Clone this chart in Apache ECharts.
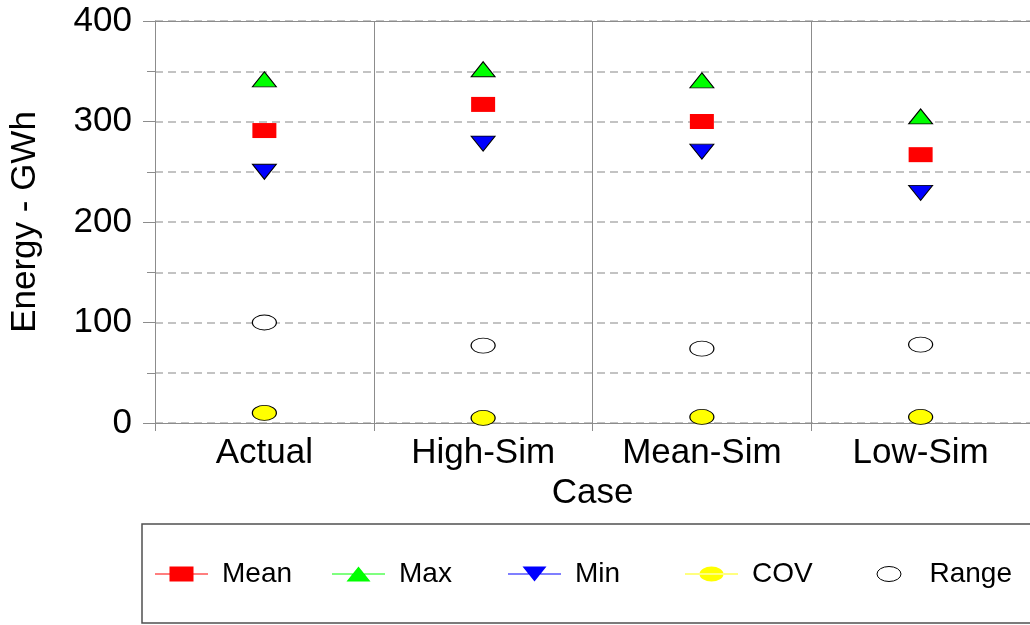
<!DOCTYPE html>
<html>
<head>
<meta charset="utf-8">
<script src="https://cdn.jsdelivr.net/npm/echarts@6/dist/echarts.min.js"></script>
<style>html,body{margin:0;padding:0;background:#fff}#c{width:1030px;height:625px}</style>
</head>
<body>
<div id="c"></div>
<script>
var categories = ['Actual', 'High-Sim', 'Mean-Sim', 'Low-Sim'];
var meanValues = [291, 317, 300, 267];
var maxValues = [342, 352, 341, 305];
var minValues = [250, 278, 270, 229];
var covValues = [10, 5, 6, 6];
var rangeValues = [100, 77, 74, 78];
var seriesNames = ['Mean', 'Max', 'Min', 'COV', 'Range'];

var FONT = 'Liberation Sans, Arial, sans-serif';
var ELLIPSE = 'path://M0,5a5,5 0 1,0 10,0a5,5 0 1,0 -10,0Z';
var LINE = 'M0,7h53v1h-53Z ';
var icons = {
  Mean: 'path://' + LINE + 'M14.5,0h24v15h-24Z',
  Max: 'path://' + LINE + 'M14.5,15L26.5,0L38.5,15Z',
  Min: 'path://' + LINE + 'M14.5,0L38.5,0L26.5,15Z',
  COV: 'path://' + LINE + 'M14.5,7.5a12,7.5 0 1,0 24,0a12,7.5 0 1,0 -24,0Z',
  Range: 'path://M14.5,7.5a12,7.5 0 1,0 24,0a12,7.5 0 1,0 -24,0Z'
};
var legendLefts = [155, 332, 508, 685, 876.5];

var chart = echarts.init(document.getElementById('c'), null, {renderer: 'canvas'});

var legends = seriesNames.map(function (n, i) {
  var isRange = n === 'Range';
  return {
    left: legendLefts[i],
    top: 560,
    padding: 0,
    itemWidth: 53,
    itemHeight: 15,
    selectedMode: false,
    data: [{
      name: n,
      icon: icons[n],
      itemStyle: isRange ? {color: '#ffffff', borderColor: '#000', borderWidth: 1} : {borderWidth: 0}
    }],
    textStyle: {fontFamily: FONT, fontSize: 28, color: '#000', padding: [0, 0, 0, 9]}
  };
});

var option = {
  backgroundColor: '#fff',
  animation: false,
  grid: {left: 155, top: 21, right: 0, bottom: 202, outerBoundsMode: 'none', containLabel: false},
  legend: legends,
  graphic: [{
    type: 'rect',
    shape: {x: 142, y: 524, width: 920, height: 99},
    style: {fill: 'none', stroke: '#505050', lineWidth: 1.5},
    silent: true
  }],
  xAxis: [{
    type: 'category',
    data: categories,
    boundaryGap: true,
    name: 'Case',
    nameLocation: 'middle',
    nameGap: 52,
    nameTextStyle: {fontFamily: FONT, fontSize: 35, color: '#000'},
    axisLine: {lineStyle: {color: '#8c8c8c', width: 1}},
    axisTick: {show: true, interval: 0, length: 8, lineStyle: {color: '#8c8c8c'}},
    axisLabel: {interval: 0, margin: 13, fontFamily: FONT, fontSize: 35, color: '#000'},
    splitLine: {show: true, interval: 0, lineStyle: {color: '#8c8c8c', width: 1, type: 'solid'}}
  }, {
    type: 'category',
    data: categories,
    position: 'top',
    axisLine: {show: true, lineStyle: {color: '#8c8c8c', width: 1}},
    axisTick: {show: false},
    axisLabel: {show: false},
    splitLine: {show: false}
  }],
  yAxis: {
    type: 'value',
    min: 0,
    max: 400,
    interval: 100,
    name: 'Energy - GWh',
    nameLocation: 'middle',
    nameGap: 112,
    nameTextStyle: {fontFamily: FONT, fontSize: 35, color: '#000'},
    axisLine: {show: true, lineStyle: {color: '#8c8c8c', width: 1}},
    axisTick: {show: true, length: 12, lineStyle: {color: '#8c8c8c'}},
    minorTick: {show: true, splitNumber: 2, length: 8, lineStyle: {color: '#8c8c8c'}},
    axisLabel: {margin: 23, fontFamily: FONT, fontSize: 35, color: '#000'},
    splitLine: {show: true, lineStyle: {color: '#b0b0b0', width: 1.5, type: [8, 5]}},
    minorSplitLine: {show: true, lineStyle: {color: '#b0b0b0', width: 1.5, type: [8, 5]}}
  },
  series: [
    {name: 'Mean', type: 'scatter', data: meanValues, symbol: 'rect', symbolSize: [24, 15],
      itemStyle: {color: '#ff0000', opacity: 1}},
    {name: 'Max', type: 'scatter', data: maxValues, symbol: 'triangle', symbolSize: [24, 15],
      itemStyle: {color: '#00ff00', borderColor: '#000', borderWidth: 1, opacity: 1}},
    {name: 'Min', type: 'scatter', data: minValues, symbol: 'triangle', symbolRotate: 180, symbolSize: [24, 15],
      itemStyle: {color: '#0000ff', borderColor: '#000', borderWidth: 1, opacity: 1}},
    {name: 'COV', type: 'scatter', data: covValues, symbol: ELLIPSE, symbolSize: [24, 15], symbolKeepAspect: false,
      itemStyle: {color: '#ffff00', borderColor: '#000', borderWidth: 1, opacity: 1}},
    {name: 'Range', type: 'scatter', data: rangeValues, symbol: ELLIPSE, symbolSize: [24, 15], symbolKeepAspect: false,
      itemStyle: {color: '#ffffff', borderColor: '#000', borderWidth: 1, opacity: 1}}
  ]
};
chart.setOption(option);
</script>
</body>
</html>
